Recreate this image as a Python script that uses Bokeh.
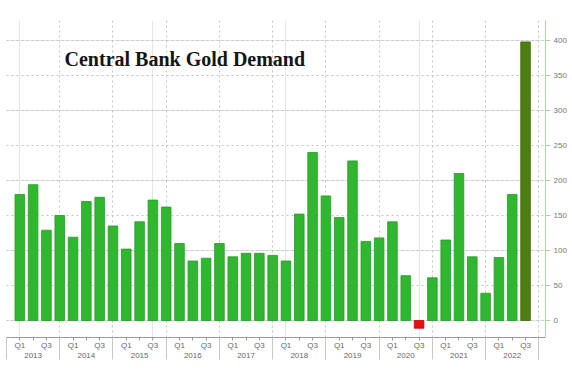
from bokeh.plotting import figure
from bokeh.models import ColumnDataSource, LinearAxis, FixedTicker, Grid, Range1d, Label
from bokeh.embed import file_html
from bokeh.resources import INLINE

# ---- data (tonnes), 2013 Q1 .. 2022 Q3 ----
years = ["2013", "2014", "2015", "2016", "2017", "2018", "2019", "2020", "2021", "2022"]
quarter_labels = ["Q1", "", "Q3"]
demand = [180, 194, 129, 150,
          119, 170, 176, 135,
          102, 141, 172, 162,
          110, 85, 89, 110,
          91, 96, 96, 93,
          85, 152, 240, 178,
          147, 228, 113, 118,
          141, 64, -11, 61,
          115, 210, 91, 39,
          90, 180, 398]
y_ticks = [0, 50, 100, 150, 200, 250, 300, 350, 400]
title_text = "Central Bank Gold Demand"

GREEN = "#2fb82f"
GREEN_LINE = "#249a24"
DARK = "#4e7d12"
RED = "#e01212"

xs = list(range(len(demand)))
colors = []
lines = []
for i, v in enumerate(demand):
    if i == len(demand) - 1:
        colors.append(DARK); lines.append("#3e6a0c")
    elif v < 0:
        colors.append(RED); lines.append("#c00000")
    else:
        colors.append(GREEN); lines.append(GREEN_LINE)

src = ColumnDataSource(dict(x=xs, top=demand, color=colors, line=lines))

p = figure(width=572, height=375,
           x_range=Range1d(-1.0, 39.5), y_range=Range1d(-24.3, 428.6),
           output_backend="svg", toolbar_location=None,
           x_axis_location=None, y_axis_location=None,
           min_border_left=6, min_border_right=27,
           min_border_top=20, min_border_bottom=38)
p.outline_line_color = None
p.background_fill_color = "white"
p.border_fill_color = "white"

# grids
bounds = [4 * k - 1 for k in range(len(years) + 1)]
hgrid = Grid(dimension=1, ticker=FixedTicker(ticks=y_ticks),
             grid_line_color="#c4c4c4", grid_line_dash="2 3", grid_line_width=1)
vgrid = Grid(dimension=0, ticker=FixedTicker(ticks=bounds),
             grid_line_color="#c4c4c4", grid_line_dash="2 3", grid_line_width=1)
p.add_layout(hgrid)
p.add_layout(vgrid)

p.vbar(x="x", top="top", bottom=0, width=0.72, source=src,
       fill_color="color", line_color="line", line_width=0.8)

# right value axis
ry = LinearAxis(ticker=FixedTicker(ticks=y_ticks),
                axis_line_color="#a8d8a8", axis_line_width=1,
                major_tick_line_color="#a8d8a8", major_tick_out=5, major_tick_in=0,
                minor_tick_line_color=None,
                major_label_text_font="Liberation Sans",
                major_label_text_font_size="8px",
                major_label_text_color="#777777",
                major_label_standoff=3)
p.add_layout(ry, "right")

# bottom quarter axis
q_ticks = []
q_over = {}
for k in range(len(years)):
    for j, lab in enumerate(quarter_labels):
        idx = 4 * k + j
        if idx < len(demand):
            q_ticks.append(idx)
            q_over[idx] = lab
qx = LinearAxis(ticker=FixedTicker(ticks=q_ticks, minor_ticks=bounds),
                major_label_overrides=q_over,
                axis_line_color="#9a9a9a", axis_line_width=1,
                major_tick_line_color="#9a9a9a", major_tick_out=3, major_tick_in=0,
                minor_tick_line_color="#c8c8c8", minor_tick_out=22, minor_tick_in=0,
                major_label_text_font="Liberation Sans",
                major_label_text_font_size="8px",
                major_label_text_color="#666666",
                major_label_standoff=-19)
p.add_layout(qx, "below")

# bottom year axis
y_pos = [4 * k + 1 for k in range(len(years))]
yx = LinearAxis(ticker=FixedTicker(ticks=y_pos),
                major_label_overrides={t: yr for t, yr in zip(y_pos, years)},
                axis_line_color=None, major_tick_line_color=None,
                minor_tick_line_color=None, major_tick_out=0, major_tick_in=0,
                major_label_text_font="Liberation Sans",
                major_label_text_font_size="8px",
                major_label_text_color="#666666",
                major_label_standoff=0)
p.add_layout(yx, "below")

p.add_layout(Label(x=3.36, y=374, text=title_text,
                   text_font="Liberation Serif", text_font_style="bold",
                   text_font_size="20px", text_color="#151515",
                   text_baseline="alphabetic", text_align="left"))

open("out.html", "w").write(file_html(p, INLINE))
